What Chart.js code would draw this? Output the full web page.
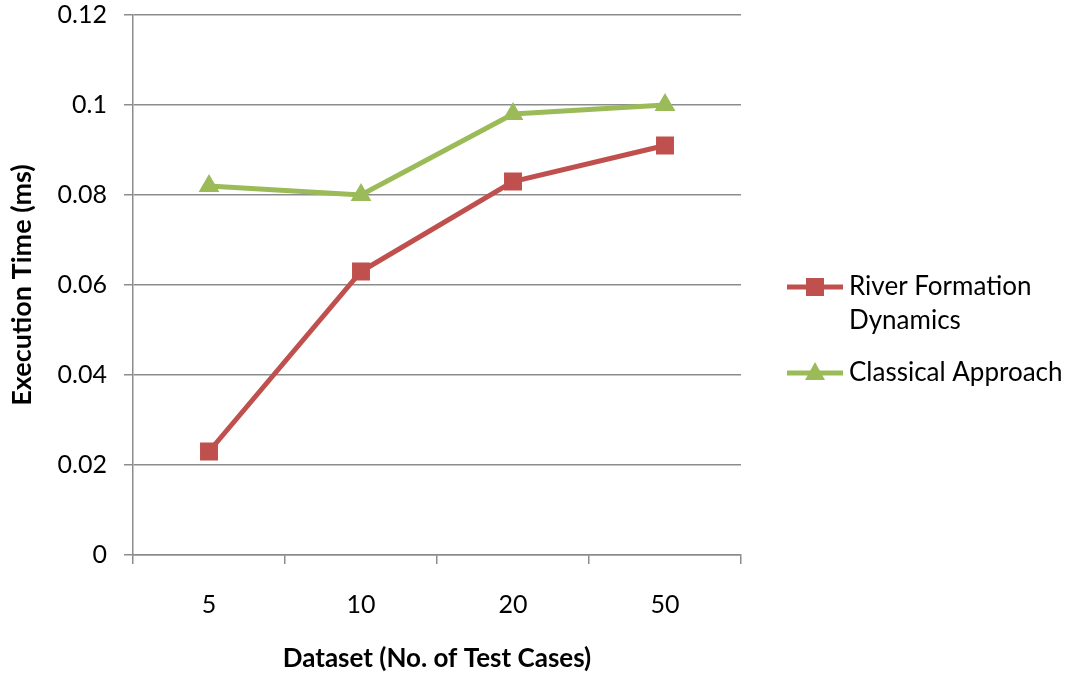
<!DOCTYPE html>
<html>
<head>
<meta charset="utf-8">
<title>Execution Time by Dataset</title>
<script src="https://cdn.jsdelivr.net/npm/chart.js@4.4.1/dist/chart.umd.min.js"></script>
<style>
  html, body { margin: 0; padding: 0; background: #ffffff; }
  #wrap { width: 1074px; height: 676px; }
</style>
</head>
<body>
<div id="wrap"><canvas id="chart" width="1074" height="676"></canvas></div>
<script>
// Test-case counts per dataset
const categories = ['5', '10', '20', '50'];
// Execution time in ms
const riverFormation = [0.023, 0.063, 0.083, 0.091];
const classicalApproach = [0.082, 0.080, 0.098, 0.100];
const seriesNames = [['River Formation', 'Dynamics'], ['Classical Approach']];
const yTicks = [0, 0.02, 0.04, 0.06, 0.08, 0.1, 0.12];

const RED = '#C0504D';
const GREEN = '#9BBB59';
const GRID = '#8c8c8c';
const FONT = 'Lato, "Noto Sans", sans-serif';

// Legend on the right: a short line with the series marker, label wrapped over lines
const sideLegend = {
  id: 'sideLegend',
  afterDraw(chart) {
    const ctx = chart.ctx;
    const items = [
      { y: 287, ds: chart.data.datasets[0] },
      { y: 373, ds: chart.data.datasets[1] }
    ];
    ctx.save();
    items.forEach(it => {
      const ds = it.ds;
      ctx.strokeStyle = ds.borderColor;
      ctx.lineWidth = 5;
      ctx.beginPath();
      ctx.moveTo(787, it.y);
      ctx.lineTo(843, it.y);
      ctx.stroke();
      ctx.fillStyle = ds.pointBackgroundColor;
      ctx.beginPath();
      if (ds.pointStyle === 'rect') {
        ctx.rect(815 - 9, it.y - 9, 18, 18);
      } else {
        ctx.moveTo(815, it.y - 11);
        ctx.lineTo(815 + 10, it.y + 7);
        ctx.lineTo(815 - 10, it.y + 7);
        ctx.closePath();
      }
      ctx.fill();
      ctx.fillStyle = '#000';
      ctx.font = '26px ' + FONT;
      ctx.textAlign = 'left';
      ctx.textBaseline = 'middle';
      ds.label.forEach((line, i) => ctx.fillText(line, 849, it.y + i * 34));
    });
    ctx.restore();
  }
};

new Chart(document.getElementById('chart'), {
  type: 'line',
  data: {
    labels: categories,
    datasets: [
      {
        label: seriesNames[0],
        data: riverFormation,
        borderColor: RED,
        backgroundColor: RED,
        pointBackgroundColor: RED,
        pointBorderColor: RED,
        pointBorderWidth: 0,
        pointStyle: 'rect',
        pointRadius: 12.7,
        borderWidth: 5,
        tension: 0
      },
      {
        label: seriesNames[1],
        data: classicalApproach,
        borderColor: GREEN,
        backgroundColor: GREEN,
        pointBackgroundColor: GREEN,
        pointBorderColor: GREEN,
        pointBorderWidth: 0,
        pointStyle: 'triangle',
        pointRadius: 12,
        borderWidth: 5,
        tension: 0
      }
    ]
  },
  options: {
    responsive: false,
    animation: false,
    devicePixelRatio: 1,
    layout: { padding: { left: 0, top: 15, right: 333, bottom: 0 }, autoPadding: false },
    plugins: {
      legend: { display: false },
      tooltip: { enabled: false }
    },
    scales: {
      x: {
        offset: true,
        afterFit(scale) {
          scale.height = 121;
          scale.paddingLeft = 0;
          scale.paddingRight = 0;
        },
        grid: {
          offset: true,
          drawOnChartArea: false,
          drawTicks: true,
          tickLength: 9,
          color: GRID,
          lineWidth: 1.5
        },
        border: { color: GRID, width: 1.5 },
        ticks: {
          color: '#000',
          font: { family: FONT, size: 25 },
          padding: 26
        },
        title: {
          display: true,
          text: 'Dataset (No. of Test Cases)',
          color: '#000',
          font: { family: FONT, size: 26, weight: 'bold' },
          padding: { top: 0, bottom: 2 }
        }
      },
      y: {
        min: 0,
        max: 0.12,
        afterFit(scale) {
          scale.width = 133;
          scale.paddingTop = 0;
          scale.paddingBottom = 0;
        },
        afterBuildTicks(scale) { scale.ticks = yTicks.map(v => ({ value: v })); },
        grid: {
          color: GRID,
          lineWidth: 1.5,
          tickLength: 9
        },
        border: { color: GRID, width: 1.5 },
        ticks: {
          color: '#000',
          font: { family: FONT, size: 25 },
          padding: 17,
          callback: v => String(+v.toFixed(2))
        },
        title: {
          display: true,
          text: 'Execution Time (ms)',
          color: '#000',
          font: { family: FONT, size: 27, weight: 'bold' },
          padding: { top: 6, bottom: 0 }
        }
      }
    }
  },
  plugins: [sideLegend]
});
</script>
</body>
</html>
